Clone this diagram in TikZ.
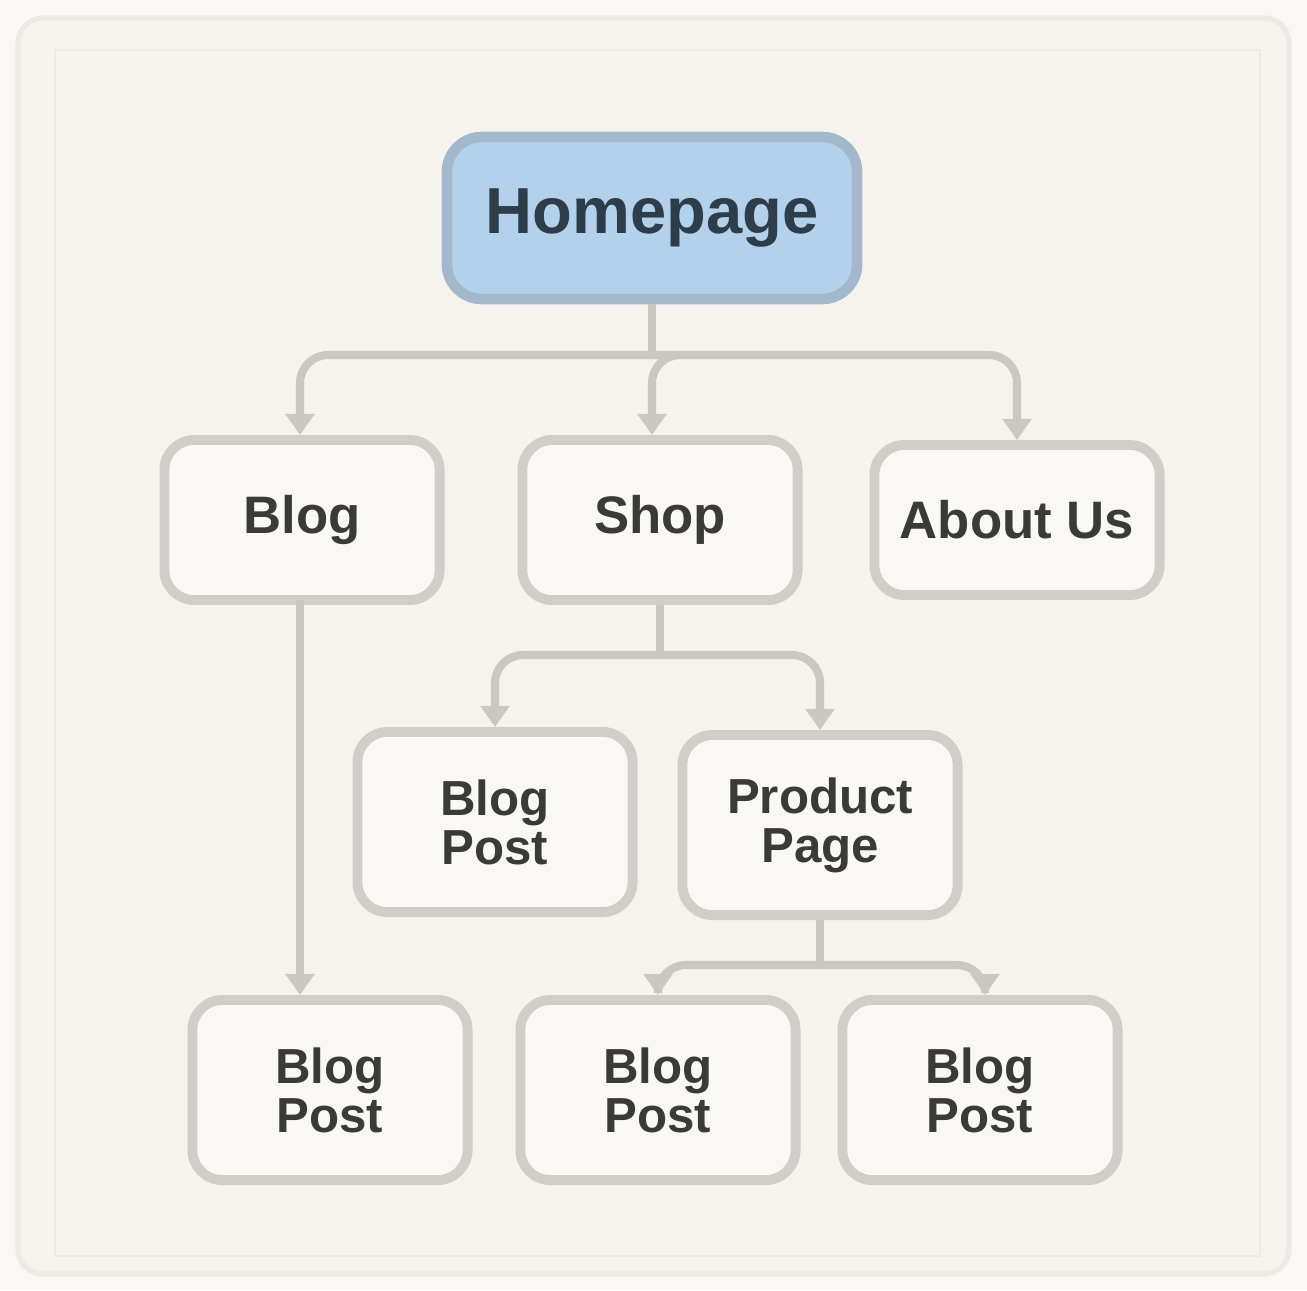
\documentclass[tikz,border=0pt]{standalone}
\usepackage{fontspec}
\setmainfont{Liberation Sans}
\usetikzlibrary{arrows.meta}
\definecolor{bgpage}{HTML}{FAF8F5}
\definecolor{bginner}{HTML}{F6F3EF}
\definecolor{frameline}{HTML}{ECEAE5}
\definecolor{boxline}{HTML}{CFCEC9}
\definecolor{boxfill}{HTML}{F9F8F5}
\definecolor{connline}{HTML}{C9C8C3}
\definecolor{homefill}{HTML}{B3D1EA}
\definecolor{homeline}{HTML}{A3B9CB}
\definecolor{hometext}{HTML}{2E3D4A}
\definecolor{nodetext}{HTML}{3A3A38}
\tikzset{
  x=0.01cm, y=-0.01cm,
  pagebox/.style={rounded corners=0.3cm, draw=boxline, line width=2.8pt, fill=boxfill,
    text=nodetext, font=\bfseries\fontsize{15}{15}\selectfont, align=center,
    minimum width=2.75cm, minimum height=1.6cm, inner sep=0pt},
  twoline/.style={font=\bfseries\fontsize{14}{14}\selectfont, minimum height=1.8cm},
  homebox/.style={rounded corners=0.35cm, draw=homeline, line width=3pt, fill=homefill,
    text=hometext, font=\bfseries\fontsize{18.5}{18.5}\selectfont,
    minimum width=4.1cm, minimum height=1.62cm, inner sep=0pt},
  conn/.style={draw=connline, line width=2.3pt, rounded corners=0.28cm},
  arr/.style={conn, -{Triangle[length=6pt, width=8pt]}},
}
\begin{document}
\begin{tikzpicture}
\useasboundingbox (0,0) rectangle (1307,1290);
\fill[bgpage] (0,0) rectangle (1307,1290);
\draw[frameline, line width=1.5pt, fill=bginner, rounded corners=0.25cm] (18,18) rectangle (1289,1274);
\draw[frameline, line width=0.8pt] (55,50) rectangle (1260,1256);

\node[homebox] (home) at (652,218) {Homepage};

\node[pagebox] (blog) at (302,520) {Blog};
\node[pagebox] (shop) at (660,520) {Shop};
\node[pagebox, minimum width=2.85cm, minimum height=1.5cm] (about) at (1017,520) {About Us};

\node[pagebox, twoline] (post) at (495,822) {Blog\\Post};
\node[pagebox, twoline] (prod) at (820,825) {Product\\Page};

\node[pagebox, twoline] (bl) at (330,1090) {Blog\\Post};
\node[pagebox, twoline] (bm) at (658,1090) {Blog\\Post};
\node[pagebox, twoline] (br) at (980,1090) {Blog\\Post};

\coordinate (j1) at (652,355);
\coordinate (j2) at (660,655);
\coordinate (j3) at (820,965);
\coordinate (blogfoot) at (300,600);

\draw[conn] (home.south) -- (j1);
\draw[arr] (j1) -| ([xshift=-0.02cm]blog.north);
\draw[arr] (j1) -| ([xshift=-0.08cm]shop.north);
\draw[arr] (j1) -| (about.north);

\draw[conn] (shop.south) -- (j2);
\draw[arr] (j2) -| (post.north);
\draw[arr] (j2) -| (prod.north);

\draw[arr] (blogfoot) -- (blogfoot |- bl.north);

\draw[conn] (prod.south) -- (j3);
\draw[arr] (j3) -| (bm.north);
\draw[arr] (j3) -| ([xshift=0.05cm]br.north);
\end{tikzpicture}
\end{document}
